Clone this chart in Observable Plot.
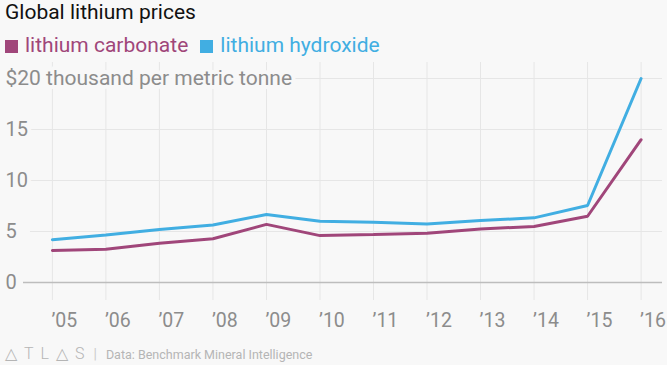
<!DOCTYPE html>
<html>
<head>
<meta charset="utf-8">
<script src="https://cdn.jsdelivr.net/npm/d3@7"></script>
<script src="https://cdn.jsdelivr.net/npm/@observablehq/plot@0.6"></script>
<style>
  html, body { margin: 0; padding: 0; background: #f8f8f8; width: 667px; height: 365px; overflow: hidden; font-family: Roboto, "Noto Sans", sans-serif; }
  #title { position: absolute; left: 5px; top: 0px; font-size: 21px; line-height: 24px; color: #111; }
  #legend { position: absolute; left: 5px; top: 33px; font-size: 21px; line-height: 24px; white-space: nowrap; }
  .sw { display: inline-block; width: 13px; height: 13px; vertical-align: -1px; margin-right: 7px; }
  .item { display: inline-block; margin-right: 12px; }
  #chart { position: absolute; left: 0; top: 58px; }
  #footer { position: absolute; left: 5px; top: 345px; height: 20px; line-height: 18px; white-space: nowrap; color: #b5b5b5; }
  #logo { display: inline-block; font-size: 16px; letter-spacing: 7px; font-weight: 300; }
  #sep { display: inline-block; margin-left: 2px; margin-right: 9px; font-size: 14px; color: #ccc; }
  #src { display: inline-block; font-size: 12.5px; }
</style>
</head>
<body>
<div id="title">Global lithium prices</div>
<div id="legend"></div>
<div id="chart"></div>
<div id="footer"><span id="logo">△TL△S</span><span id="sep">|</span><span id="src">Data: Benchmark Mineral Intelligence</span></div>
<script>
const years = [2005, 2006, 2007, 2008, 2009, 2010, 2011, 2012, 2013, 2014, 2015, 2016];
const carbonate = [3.15, 3.27, 3.85, 4.3, 5.7, 4.6, 4.7, 4.83, 5.26, 5.5, 6.5, 14.0];
const hydroxide = [4.2, 4.65, 5.2, 5.65, 6.67, 6.0, 5.9, 5.75, 6.08, 6.34, 7.55, 20.0];
const seriesNames = ["lithium carbonate", "lithium hydroxide"];
const seriesColors = ["#a0467a", "#41aee2"];
const yTicks = [0, 5, 10, 15, 20];
const yTickLabels = ["0", "5", "10", "15", "$20 thousand per metric tonne"];
const xTickLabels = years.map(y => "\u2019" + String(y).slice(2));

const bg = "#f8f8f8";
const xDomain = [2004.46, 2016.4];
const gridStart = 2004.59;

const data = [];
years.forEach((yr, i) => {
  data.push({year: yr, value: carbonate[i], series: seriesNames[0]});
  data.push({year: yr, value: hydroxide[i], series: seriesNames[1]});
});

const legend = document.getElementById("legend");
seriesNames.forEach((n, i) => {
  const s = document.createElement("span");
  s.className = "item";
  s.style.color = seriesColors[i];
  s.innerHTML = `<span class="sw" style="background:${seriesColors[i]}"></span>${n}`;
  legend.appendChild(s);
});

const tickData = yTicks.map((v, i) => ({v, label: yTickLabels[i]}));
const topTick = tickData.slice(-1);
const lowTicks = tickData.slice(0, -1);
const xTickData = years.map((yr, i) => ({yr, label: xTickLabels[i]}));

const labelStyle = {
  y: "v", text: "label", frameAnchor: "left", textAnchor: "start", dx: -18,
  fill: "#8c8c8c", stroke: bg, strokeWidth: 8, paintOrder: "stroke"
};

const chart = Plot.plot({
  width: 667,
  height: 307,
  marginLeft: 23,
  marginRight: 5,
  marginTop: 4,
  marginBottom: 65,
  style: {background: "transparent", fontFamily: "Roboto, 'Noto Sans', sans-serif"},
  x: {domain: xDomain, axis: null},
  y: {domain: [-1.76, 21.57], axis: null},
  color: {domain: seriesNames, range: seriesColors},
  marks: [
    Plot.gridX(years, {stroke: "#e6e6e6", strokeOpacity: 1, strokeWidth: 1}),
    Plot.ruleY(yTicks.filter(d => d !== 0), {x1: gridStart, x2: xDomain[1], stroke: "#e6e6e6", strokeWidth: 1}),
    Plot.ruleY([0], {x1: xDomain[0], x2: xDomain[1], stroke: "#bdbdbd", strokeWidth: 1.5}),
    Plot.text(lowTicks, {...labelStyle, fontSize: 20}),
    Plot.text(topTick, {...labelStyle, fontSize: 21}),
    Plot.text(xTickData, {
      x: "yr", text: "label", frameAnchor: "bottom", lineAnchor: "top", textAnchor: "start",
      dy: 13, dx: -1, fontSize: 19.5, fill: "#8c8c8c"
    }),
    Plot.line(data, {x: "year", y: "value", stroke: "series", z: "series", strokeWidth: 3, strokeLinejoin: "miter", curve: "linear"})
  ]
});
document.getElementById("chart").appendChild(chart);
</script>
</body>
</html>
